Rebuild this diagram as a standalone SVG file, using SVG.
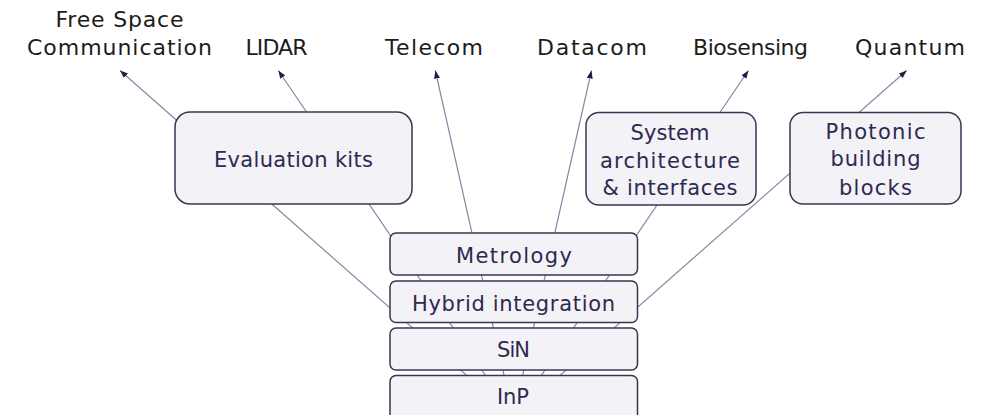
<svg xmlns="http://www.w3.org/2000/svg" width="986" height="415" viewBox="0 0 986 415">
  <style>
    .conn { stroke: #8a86a3; stroke-width: 1.2; fill: none; marker-end: url(#arrow); }
    .box { fill: #f2f2f7; stroke: #3b3551; stroke-width: 1.5; }
    .lbl { font-family: "DejaVu Sans", "Liberation Sans", sans-serif; font-size: 22px; fill: #1c1c1c; text-anchor: middle; lengthAdjust: spacing; }
    .txt { font-family: "DejaVu Sans", "Liberation Sans", sans-serif; font-size: 21px; fill: #2f2850; text-anchor: middle; }
  </style>
  <defs>
    <marker id="arrow" markerUnits="userSpaceOnUse" markerWidth="8" markerHeight="6" refX="8" refY="3" orient="auto">
      <path d="M0,0 L8,3 L0,6 z" fill="#231c45"/>
    </marker>
  </defs>

  <g id="connectors">
    <line class="conn" x1="513.4" y1="416.5" x2="120" y2="70.5"/>
    <line class="conn" x1="513.4" y1="416.5" x2="278.3" y2="70.5"/>
    <line class="conn" x1="513.4" y1="416.5" x2="435.3" y2="70.5"/>
    <line class="conn" x1="513.4" y1="416.5" x2="591.5" y2="70.5"/>
    <line class="conn" x1="513.4" y1="416.5" x2="748.4" y2="70.5"/>
    <line class="conn" x1="513.4" y1="416.5" x2="906.7" y2="70.5"/>
  </g>

  <g id="label-freespace">
    <text class="lbl" x="119.5" y="27" textLength="128" lengthAdjust="spacing">Free Space</text>
    <text class="lbl" x="119.5" y="55" textLength="185" lengthAdjust="spacing">Communication</text>
  </g>
  <g id="label-lidar"><text class="lbl" x="276.5" y="55" textLength="62" lengthAdjust="spacing">LIDAR</text></g>
  <g id="label-telecom"><text class="lbl" x="434" y="55" textLength="98" lengthAdjust="spacing">Telecom</text></g>
  <g id="label-datacom"><text class="lbl" x="592" y="55" textLength="110" lengthAdjust="spacing">Datacom</text></g>
  <g id="label-biosensing"><text class="lbl" x="750.5" y="55" textLength="115" lengthAdjust="spacing">Biosensing</text></g>
  <g id="label-quantum"><text class="lbl" x="910" y="55" textLength="110" lengthAdjust="spacing">Quantum</text></g>

  <g id="evaluation-kits">
    <rect class="box" x="175" y="112" width="237" height="92" rx="15"/>
    <text class="txt" x="293.5" y="166.5" textLength="159" lengthAdjust="spacing">Evaluation kits</text>
  </g>

  <g id="system-architecture">
    <rect class="box" x="586" y="112.5" width="170" height="92.5" rx="13"/>
    <text class="txt" x="670" y="139.5" textLength="79" lengthAdjust="spacing">System</text>
    <text class="txt" x="670" y="167.5" textLength="140" lengthAdjust="spacing">architecture</text>
    <text class="txt" x="670" y="195" textLength="135" lengthAdjust="spacing">&amp; interfaces</text>
  </g>

  <g id="photonic-building-blocks">
    <rect class="box" x="790" y="112.5" width="171" height="91.5" rx="13"/>
    <text class="txt" x="875.5" y="138.5" textLength="100" lengthAdjust="spacing">Photonic</text>
    <text class="txt" x="875.5" y="166" textLength="90" lengthAdjust="spacing">building</text>
    <text class="txt" x="875.5" y="194.5" textLength="73" lengthAdjust="spacing">blocks</text>
  </g>

  <g id="metrology">
    <rect class="box" x="390" y="233" width="247.5" height="42" rx="6"/>
    <text class="txt" x="514" y="263" textLength="116" lengthAdjust="spacing">Metrology</text>
  </g>
  <g id="hybrid-integration">
    <rect class="box" x="390" y="281" width="247.5" height="41.5" rx="6"/>
    <text class="txt" x="513.5" y="310.5" textLength="203" lengthAdjust="spacing">Hybrid integration</text>
  </g>
  <g id="sin">
    <rect class="box" x="390" y="328" width="247.5" height="42" rx="6"/>
    <text class="txt" x="513.5" y="357" textLength="33" lengthAdjust="spacing">SiN</text>
  </g>
  <g id="inp">
    <rect class="box" x="390" y="375.5" width="247.5" height="46" rx="6"/>
    <text class="txt" x="513" y="404" textLength="32" lengthAdjust="spacing">InP</text>
  </g>
</svg>
